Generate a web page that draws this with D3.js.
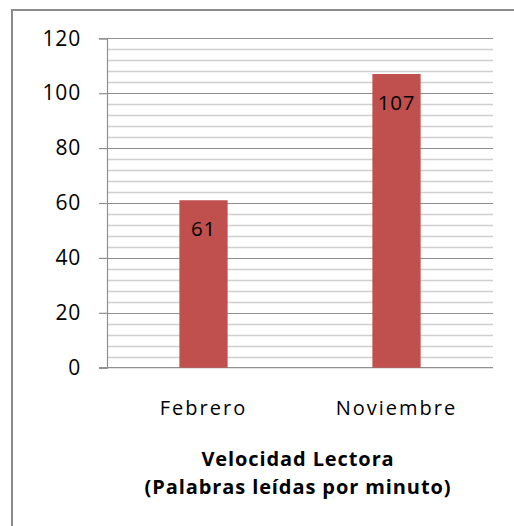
<!DOCTYPE html>
<html>
<head>
<meta charset="utf-8">
<title>Velocidad Lectora</title>
<script src="https://cdn.jsdelivr.net/npm/d3@7/dist/d3.min.js"></script>
<style>
  body { margin: 0; background: #fff; }
  text { font-family: "Open Sans", sans-serif; fill: #000; }
</style>
</head>
<body>
<svg id="chart" width="514" height="526"></svg>
<script>
const categories = ['Febrero', 'Noviembre'];
const values = [61, 107];
const yTicks = [0, 20, 40, 60, 80, 100, 120];
const titleLines = ['Velocidad Lectora', '(Palabras leídas por minuto)'];

const svg = d3.select('#chart');

// chart frame: only the top and left edges show in the picture
svg.append('path')
    .attr('d', 'M12,526 V10 H514')
    .attr('fill', 'none')
    .attr('stroke', '#8c8c8c')
    .attr('stroke-width', 2);

const plot = { left: 107, right: 493, top: 38.3, bottom: 367.7 };

const x = d3.scaleBand().domain(categories).range([plot.left, plot.right]).padding(0);
const y = d3.scaleLinear().domain([0, 120]).range([plot.bottom, plot.top]);

// minor grid every 4 units, major every 20
const minor = d3.range(4, 120, 4).filter(v => v % 20 !== 0);
svg.append('g').selectAll('line').data(minor).join('line')
    .attr('x1', plot.left).attr('x2', plot.right)
    .attr('y1', d => Math.round(y(d)) + 0.5).attr('y2', d => Math.round(y(d)) + 0.5)
    .attr('stroke', '#cfcfcf').attr('stroke-width', 1.3);

svg.append('g').selectAll('line').data(yTicks.filter(v => v > 0)).join('line')
    .attr('x1', plot.left).attr('x2', plot.right)
    .attr('y1', d => Math.round(y(d)) + 0.5).attr('y2', d => Math.round(y(d)) + 0.5)
    .attr('stroke', '#8f8f8f').attr('stroke-width', 1.2);

// y axis
const yAxis = svg.append('g')
    .attr('transform', `translate(${plot.left},0)`)
    .call(d3.axisLeft(y).tickValues(yTicks).tickSize(8).tickPadding(18));
yAxis.select('.domain').attr('stroke', '#8f8f8f').attr('stroke-width', 1.2);
yAxis.selectAll('.tick line').attr('stroke', '#8f8f8f').attr('stroke-width', 1.2);
yAxis.selectAll('.tick text')
    .attr('font-size', 21).attr('font-family', '"Open Sans", sans-serif').attr('fill', '#222')
    .attr('letter-spacing', 0.8);

// baseline
svg.append('line')
    .attr('x1', plot.left - 8).attr('x2', plot.right)
    .attr('y1', y(0)).attr('y2', y(0))
    .attr('stroke', '#8f8f8f').attr('stroke-width', 1.2);

// bars
const barW = x.bandwidth() * 0.25;
svg.append('g').selectAll('rect').data(values).join('rect')
    .attr('x', (d, i) => x(categories[i]) + x.bandwidth() / 2 - barW / 2)
    .attr('y', d => y(d))
    .attr('width', barW)
    .attr('height', d => y(0) - y(d))
    .attr('fill', '#c0504d');

// value labels
svg.append('g').selectAll('text').data(values).join('text')
    .attr('x', (d, i) => x(categories[i]) + x.bandwidth() / 2)
    .attr('y', d => y(d) + 36)
    .attr('text-anchor', 'middle')
    .attr('font-size', 20.5)
    .attr('letter-spacing', 0.7)
    .text(d => d);

// category labels
svg.append('g').selectAll('text').data(categories).join('text')
    .attr('x', d => x(d) + x.bandwidth() / 2)
    .attr('y', 415)
    .attr('text-anchor', 'middle')
    .attr('font-size', 20)
    .attr('letter-spacing', 2)
    .attr('fill', '#222')
    .text(d => d);

// axis title
svg.append('g').selectAll('text').data(titleLines).join('text')
    .attr('x', 298)
    .attr('y', (d, i) => 466 + i * 28)
    .attr('text-anchor', 'middle')
    .attr('font-size', 20)
    .attr('font-weight', 'bold')
    .attr('letter-spacing', 0.9)
    .text(d => d);
</script>
</body>
</html>
